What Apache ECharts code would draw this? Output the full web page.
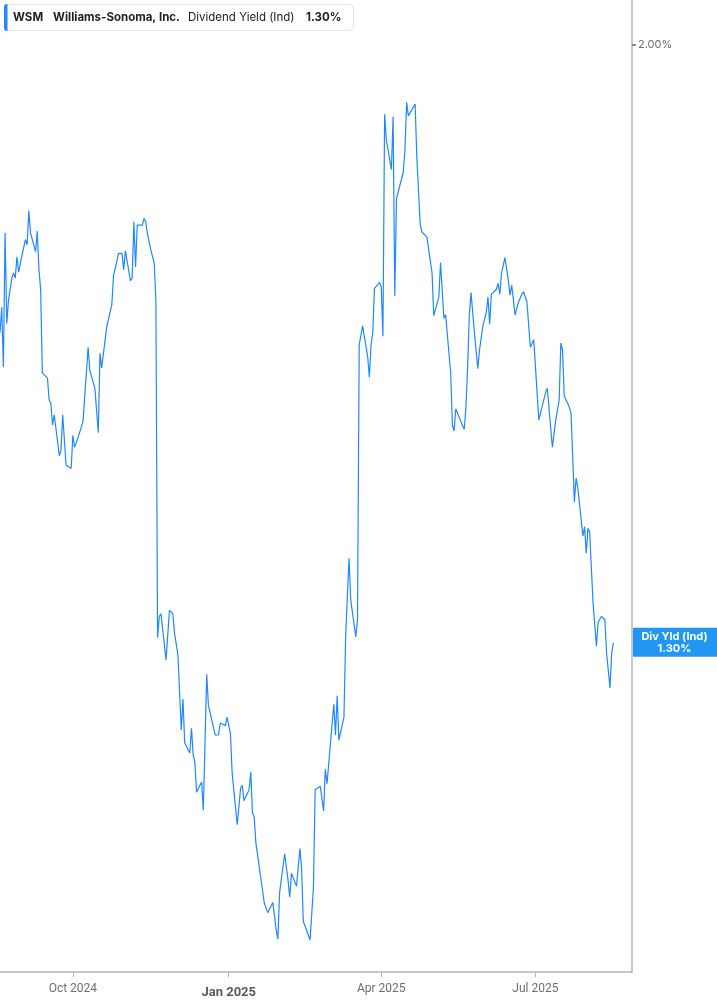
<!DOCTYPE html>
<html><head><meta charset="utf-8">
<script src="https://cdn.jsdelivr.net/npm/echarts@6/dist/echarts.min.js"></script>
<style>html,body{margin:0;padding:0;background:#fff;}#c{width:717px;height:1005px;}</style>
</head><body><div id="c"></div>
<script>
const dates = [
'2024-08-19','2024-08-20','2024-08-21','2024-08-22','2024-08-23','2024-08-24','2024-08-26','2024-08-27','2024-08-28','2024-08-29',
'2024-08-30','2024-09-01','2024-09-03','2024-09-04','2024-09-05','2024-09-06','2024-09-09','2024-09-10','2024-09-11','2024-09-12',
'2024-09-13','2024-09-16','2024-09-17','2024-09-18','2024-09-19','2024-09-20','2024-09-23','2024-09-24','2024-09-25','2024-09-27',
'2024-09-30','2024-10-01','2024-10-02','2024-10-04','2024-10-07','2024-10-08','2024-10-10','2024-10-11','2024-10-14','2024-10-16',
'2024-10-17','2024-10-18','2024-10-21','2024-10-22','2024-10-24','2024-10-25','2024-10-28','2024-10-30','2024-10-31','2024-11-01',
'2024-11-04','2024-11-05','2024-11-06','2024-11-07','2024-11-08','2024-11-11','2024-11-12','2024-11-13','2024-11-14','2024-11-15',
'2024-11-16','2024-11-18','2024-11-19','2024-11-20','2024-11-21','2024-11-22','2024-11-25','2024-11-27','2024-11-29','2024-11-30',
'2024-12-02','2024-12-04','2024-12-05','2024-12-06','2024-12-09','2024-12-10','2024-12-11','2024-12-12','2024-12-13','2024-12-16',
'2024-12-17','2024-12-19','2024-12-20','2024-12-24','2024-12-26','2024-12-27','2024-12-30','2024-12-31','2025-01-02','2025-01-03',
'2025-01-06','2025-01-08','2025-01-09','2025-01-10','2025-01-13','2025-01-14','2025-01-15','2025-01-16','2025-01-17','2025-01-22',
'2025-01-23','2025-01-24','2025-01-27','2025-01-29','2025-01-30','2025-01-31','2025-02-03','2025-02-05','2025-02-06','2025-02-07',
'2025-02-10','2025-02-12','2025-02-13','2025-02-14','2025-02-18','2025-02-20','2025-02-21','2025-02-24','2025-02-26','2025-02-27',
'2025-02-28','2025-03-04','2025-03-05','2025-03-06','2025-03-07','2025-03-10','2025-03-11','2025-03-12','2025-03-13','2025-03-14',
'2025-03-17','2025-03-18','2025-03-19','2025-03-21','2025-03-24','2025-03-25','2025-03-26','2025-03-27','2025-03-28','2025-03-31',
'2025-04-01','2025-04-02','2025-04-03','2025-04-04','2025-04-07','2025-04-08','2025-04-09','2025-04-10','2025-04-11','2025-04-14',
'2025-04-15','2025-04-16','2025-04-17','2025-04-21','2025-04-22','2025-04-24','2025-04-25','2025-04-28','2025-04-29','2025-05-01',
'2025-05-02','2025-05-05','2025-05-06','2025-05-08','2025-05-09','2025-05-12','2025-05-13','2025-05-14','2025-05-15','2025-05-16',
'2025-05-19','2025-05-20','2025-05-21','2025-05-22','2025-05-23','2025-05-24','2025-05-26','2025-05-28','2025-05-29','2025-05-30',
'2025-05-31','2025-06-02','2025-06-03','2025-06-04','2025-06-05','2025-06-08','2025-06-09','2025-06-10','2025-06-11','2025-06-13',
'2025-06-15','2025-06-16','2025-06-17','2025-06-19','2025-06-21','2025-06-23','2025-06-24','2025-06-26','2025-06-28','2025-06-30',
'2025-07-01','2025-07-03','2025-07-04','2025-07-07','2025-07-08','2025-07-09','2025-07-11','2025-07-13','2025-07-15','2025-07-16',
'2025-07-17','2025-07-18','2025-07-19','2025-07-21','2025-07-22','2025-07-23','2025-07-24','2025-07-25','2025-07-26','2025-07-29',
'2025-07-30','2025-07-31','2025-08-01','2025-08-02','2025-08-04','2025-08-06','2025-08-07','2025-08-09','2025-08-10','2025-08-11',
'2025-08-12','2025-08-14','2025-08-15','2025-08-16'
];
const yields = [
1.663,1.693,1.623,1.780,1.674,1.701,1.727,1.733,1.727,1.752,1.734,1.754,1.772,1.766,1.806,1.780,1.758,1.782,1.737,1.713,
1.616,1.610,1.584,1.581,1.555,1.567,1.519,1.526,1.567,1.508,1.504,1.543,1.529,1.540,1.559,1.561,1.646,1.619,1.598,1.546,
1.639,1.622,1.670,1.670,1.696,1.730,1.756,1.756,1.737,1.759,1.724,1.727,1.793,1.740,1.789,1.789,1.797,1.793,1.779,1.779,
1.760,1.745,1.701,1.306,1.331,1.334,1.280,1.338,1.334,1.311,1.286,1.198,1.234,1.183,1.171,1.200,1.169,1.160,1.125,1.137,
1.104,1.263,1.227,1.192,1.192,1.206,1.203,1.213,1.194,1.148,1.087,1.130,1.133,1.115,1.128,1.149,1.101,1.096,1.066,0.995,
0.995,0.984,0.996,0.964,0.953,1.007,1.053,1.022,1.002,1.030,1.015,1.059,1.036,0.974,0.952,1.014,1.128,1.132,1.103,1.152,
1.135,1.228,1.192,1.238,1.186,1.213,1.307,1.308,1.399,1.350,1.307,1.327,1.649,1.671,1.635,1.611,1.649,1.663,1.715,1.722,
1.717,1.659,1.919,1.889,1.854,1.916,1.706,1.820,1.818,1.851,1.877,1.933,1.917,1.931,1.869,1.790,1.781,1.775,1.760,1.733,
1.683,1.705,1.745,1.680,1.684,1.616,1.555,1.548,1.574,1.573,1.554,1.550,1.576,1.623,1.684,1.710,1.663,1.621,1.643,1.644,
1.671,1.687,1.705,1.673,1.708,1.714,1.721,1.708,1.733,1.751,1.725,1.707,1.719,1.684,1.699,1.708,1.711,1.699,1.646,1.655,
1.655,1.561,1.559,1.593,1.598,1.597,1.529,1.561,1.584,1.651,1.643,1.589,1.587,1.576,1.569,1.518,1.465,1.493,1.482,1.425,
1.436,1.405,1.434,1.430,1.347,1.296,1.324,1.331,1.329,1.327,1.288,1.247,1.288,1.300
];
const tickDates = ['2024-10-01','2025-01-01','2025-04-01','2025-07-01'];
const tickLabels = ['Oct 2024','Jan 2025','Apr 2025','Jul 2025'];
const yTicks = [2.00];
const axisRange = {xMin:'2024-08-19', xMax:'2025-08-27', yMin:0.9145, yMax:2.0527};

function ts(s){const p=s.split('-').map(Number);return new Date(p[0],p[1]-1,p[2]).getTime();}
const seriesData = dates.map((d,i)=>[ts(d), yields[i]]);
const tickTs = tickDates.map(ts);
const lastVal = yields[yields.length-1];

const chart = echarts.init(document.getElementById('c'), null, {renderer:'canvas'});
const axisFont = "Roboto, 'Noto Sans', sans-serif";
chart.setOption({
  animation:false,
  backgroundColor:'#fff',
  grid:{left:0, right:85, top:0, bottom:33, containLabel:false},
  xAxis:{
    type:'value', min:ts(axisRange.xMin), max:ts(axisRange.xMax), scale:true,
    axisLine:{show:true, lineStyle:{color:'#b4b4b4', width:1.5}},
    axisTick:{show:true, customValues:tickTs, length:5, lineStyle:{color:'#b4b4b4', width:1}},
    axisLabel:{
      customValues:tickTs, margin:11, color:'#6e6e6e', fontSize:12, fontFamily:axisFont,
      formatter:function(v){
        let i = -1;
        tickTs.forEach((t,k)=>{ if (Math.abs(t-v) < 3600000) i = k; });
        const t = i>=0 ? tickLabels[i] : '';
        return t.indexOf('Jan')===0 ? '{b|'+t+'}' : t;
      },
      rich:{b:{fontWeight:'bold', fontSize:13, color:'#5a5a5a', fontFamily:axisFont, padding:[3,0,0,0]}}
    },
    splitLine:{show:false}
  },
  yAxis:{
    type:'value', position:'right', min:axisRange.yMin, max:axisRange.yMax,
    axisLine:{show:true, lineStyle:{color:'#b4b4b4', width:1.5}},
    axisTick:{show:true, customValues:yTicks, length:4, lineStyle:{color:'#666', width:1.5}},
    axisLabel:{customValues:yTicks, formatter:v=>v.toFixed(2)+'%', color:'#6e6e6e', fontSize:11, margin:6, fontFamily:"Inter, 'Noto Sans', sans-serif"},
    splitLine:{show:false}
  },
  series:[{
    type:'line', data:seriesData, showSymbol:false, symbol:'none',
    lineStyle:{color:'#1e88ff', width:1.2}, itemStyle:{color:'#1e88ff'}
  }]
});

const py = chart.convertToPixel({gridIndex:0}, [seriesData[seriesData.length-1][0], lastVal])[1];
const plotRight = chart.convertToPixel({gridIndex:0}, [ts(axisRange.xMax), lastVal])[0];
const legendFont = "Inter, 'Noto Sans', sans-serif";
chart.setOption({
  graphic:[
    {type:'rect', shape:{x:4.5,y:4.5,width:349,height:26,r:4}, style:{fill:'#fff', stroke:'#e4e4e4', lineWidth:1}, z:10},
    {type:'rect', shape:{x:4,y:4,width:3.5,height:27,r:[3,0,0,3]}, style:{fill:'#1e88ff'}, z:11},
    {type:'text', x:13, y:17.5, style:{text:'WSM', fill:'#222', font:"bold 11.5px "+legendFont, verticalAlign:'middle'}, z:11},
    {type:'text', x:53, y:17.5, style:{text:'Williams-Sonoma, Inc.', fill:'#222', font:"bold 11.5px "+legendFont, verticalAlign:'middle'}, z:11},
    {type:'text', x:188, y:17.5, style:{text:'Dividend Yield (Ind)', fill:'#222', font:"11.5px "+legendFont, verticalAlign:'middle'}, z:11},
    {type:'text', x:306, y:17.5, style:{text:lastVal.toFixed(2)+'%', fill:'#222', font:"bold 11.5px "+legendFont, verticalAlign:'middle'}, z:11},
    {type:'rect', shape:{x:plotRight+1, y:py-15, width:717-plotRight-1, height:29}, style:{fill:'#2196f3'}, z:10},
    {type:'text', x:(plotRight+717)/2, y:py-0.5, style:{text:'Div Yld (Ind)\n'+lastVal.toFixed(2)+'%', fill:'#fff', font:"bold 11px "+legendFont, align:'center', verticalAlign:'middle', lineHeight:12}, z:11}
  ]
});
</script>
</body></html>
